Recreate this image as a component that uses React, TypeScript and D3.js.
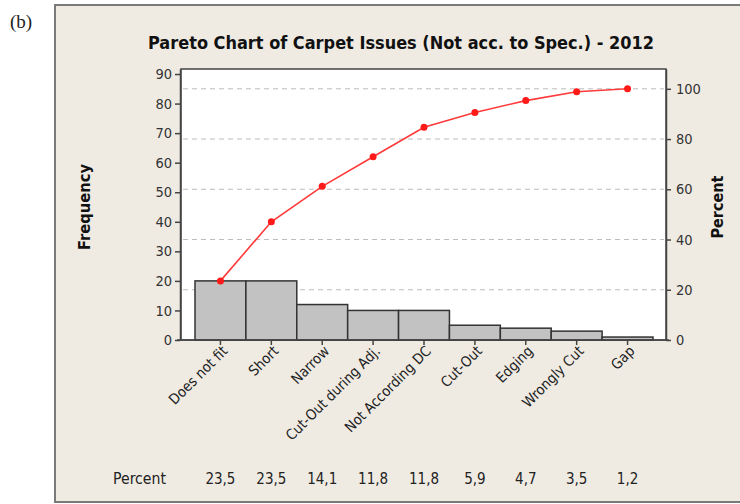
import React, { useEffect, useRef } from 'react';
import * as d3 from 'd3';

const categories = ['Does not fit', 'Short', 'Narrow', 'Cut-Out during Adj.', 'Not According DC', 'Cut-Out', 'Edging', 'Wrongly Cut', 'Gap'];
const counts = [20, 20, 12, 10, 10, 5, 4, 3, 1];
const percentLabels = ['23,5', '23,5', '14,1', '11,8', '11,8', '5,9', '4,7', '3,5', '1,2'];
const freqTicks = [0, 10, 20, 30, 40, 50, 60, 70, 80, 90];
const pctTicks = [0, 20, 40, 60, 80, 100];

const W = 740;
const H = 504;
const FONT = '"DejaVu Sans Condensed", "DejaVu Sans", sans-serif';

const App: React.FC = () => {
  const ref = useRef<SVGSVGElement>(null);

  useEffect(() => {
    if (!ref.current) return;
    const svg = d3.select(ref.current);
    svg.selectAll('*').remove();

    const total = d3.sum(counts);
    const cum = d3.cumsum(counts).map((c) => (c / total) * 100);

    const plot = { left: 181, right: 666, top: 69, bottom: 340 };

    // outer panel
    svg.append('rect').attr('width', W).attr('height', H).attr('fill', '#fff');
    svg
      .append('rect')
      .attr('x', 55)
      .attr('y', 5)
      .attr('width', 700)
      .attr('height', 497)
      .attr('fill', '#efebe3')
      .attr('stroke', '#7a7a7a')
      .attr('stroke-width', 2);

    svg
      .append('text')
      .attr('x', 10)
      .attr('y', 28)
      .style('font-family', '"Liberation Serif", serif')
      .style('font-size', '19px')
      .attr('fill', '#222')
      .text('(b)');

    svg
      .append('text')
      .attr('x', 401)
      .attr('y', 49)
      .attr('text-anchor', 'middle')
      .attr('textLength', 506)
      .attr('lengthAdjust', 'spacingAndGlyphs')
      .style('font-family', FONT)
      .style('font-size', '18px')
      .style('font-weight', 'bold')
      .attr('fill', '#111')
      .text('Pareto Chart of Carpet Issues (Not acc. to Spec.) - 2012');

    const x = d3.scaleBand<string>().domain(categories).range([195, 653]).padding(0);
    const yF = d3.scaleLinear().domain([0, 91.7]).range([plot.bottom, plot.top]);
    const yP = d3.scaleLinear().domain([0, (91.7 / total) * 100]).range([plot.bottom, plot.top]);

    svg
      .append('rect')
      .attr('x', plot.left)
      .attr('y', plot.top)
      .attr('width', plot.right - plot.left)
      .attr('height', plot.bottom - plot.top)
      .attr('fill', '#fff')
      .attr('stroke', '#444')
      .attr('stroke-width', 1.5);

    // gridlines
    svg
      .append('g')
      .selectAll('line')
      .data(pctTicks.filter((t) => t > 0))
      .enter()
      .append('line')
      .attr('x1', plot.left + 2)
      .attr('x2', plot.right - 2)
      .attr('y1', (d) => yP(d))
      .attr('y2', (d) => yP(d))
      .attr('stroke', '#bdbdbd')
      .attr('stroke-width', 1)
      .attr('stroke-dasharray', '5,4');

    // bars
    svg
      .append('g')
      .selectAll('rect')
      .data(counts)
      .enter()
      .append('rect')
      .attr('x', (_d, i) => x(categories[i]) as number)
      .attr('y', (d) => yF(d))
      .attr('width', x.bandwidth())
      .attr('height', (d) => yF(0) - yF(d))
      .attr('fill', '#c2c2c2')
      .attr('stroke', '#333')
      .attr('stroke-width', 1.5);

    const cx = (i: number) => (x(categories[i]) as number) + x.bandwidth() / 2;

    // cumulative line
    const line = d3
      .line<number>()
      .x((_d, i) => cx(i))
      .y((d) => yP(d));
    svg
      .append('path')
      .datum(cum)
      .attr('d', line)
      .attr('fill', 'none')
      .attr('stroke', '#ff3a3a')
      .attr('stroke-width', 1.6);
    svg
      .append('g')
      .selectAll('circle')
      .data(cum)
      .enter()
      .append('circle')
      .attr('cx', (_d, i) => cx(i))
      .attr('cy', (d) => yP(d))
      .attr('r', 3.5)
      .attr('fill', '#ff1a1a');

    // left axis
    const leftAxis = svg
      .append('g')
      .attr('transform', `translate(${plot.left - 1},0)`)
      .call(d3.axisLeft(yF).tickValues(freqTicks).tickSize(5).tickSizeOuter(0));
    leftAxis.select('.domain').attr('stroke', '#444').attr('stroke-width', 1.5);
    leftAxis.selectAll('.tick line').attr('stroke', '#444').attr('stroke-width', 1.5);
    leftAxis
      .selectAll('.tick text')
      .style('font-family', FONT)
      .style('font-size', '14.5px')
      .attr('fill', '#333')
      .attr('x', -8);

    // right axis
    const rightAxis = svg
      .append('g')
      .attr('transform', `translate(${plot.right},0)`)
      .call(d3.axisRight(yP).tickValues(pctTicks).tickSize(5).tickSizeOuter(0));
    rightAxis.select('.domain').attr('stroke', '#444').attr('stroke-width', 1.5);
    rightAxis.selectAll('.tick line').attr('stroke', '#444').attr('stroke-width', 1.5);
    rightAxis
      .selectAll('.tick text')
      .style('font-family', FONT)
      .style('font-size', '14.5px')
      .attr('fill', '#333')
      .attr('x', 10);

    // bottom axis
    const bottomAxis = svg
      .append('g')
      .attr('transform', `translate(0,${plot.bottom})`)
      .call(d3.axisBottom(x).tickSize(5).tickSizeOuter(0));
    bottomAxis.select('.domain').remove();
    bottomAxis.selectAll('.tick line').attr('stroke', '#444').attr('stroke-width', 1.5);
    bottomAxis
      .selectAll('.tick text')
      .style('font-family', FONT)
      .style('font-size', '14.5px')
      .attr('fill', '#222')
      .attr('text-anchor', 'end')
      .attr('dy', 0)
      .attr('y', 0)
      .attr('transform', 'translate(8,12) rotate(-45)');
    svg
      .append('line')
      .attr('x1', plot.left - 4)
      .attr('x2', plot.right + 3)
      .attr('y1', plot.bottom)
      .attr('y2', plot.bottom)
      .attr('stroke', '#444')
      .attr('stroke-width', 1.5);

    // axis titles
    svg
      .append('text')
      .attr('transform', 'translate(90,207) rotate(-90)')
      .attr('text-anchor', 'middle')
      .attr('textLength', 86)
      .attr('lengthAdjust', 'spacingAndGlyphs')
      .style('font-family', FONT)
      .style('font-size', '15px')
      .style('font-weight', 'bold')
      .attr('fill', '#111')
      .text('Frequency');
    svg
      .append('text')
      .attr('transform', 'translate(723,207) rotate(-90)')
      .attr('text-anchor', 'middle')
      .attr('textLength', 63)
      .attr('lengthAdjust', 'spacingAndGlyphs')
      .style('font-family', FONT)
      .style('font-size', '15px')
      .style('font-weight', 'bold')
      .attr('fill', '#111')
      .text('Percent');

    // percent row
    svg
      .append('text')
      .attr('x', 113)
      .attr('y', 484)
      .attr('textLength', 53)
      .attr('lengthAdjust', 'spacingAndGlyphs')
      .style('font-family', FONT)
      .style('font-size', '15px')
      .attr('fill', '#222')
      .text('Percent');
    svg
      .append('g')
      .selectAll('text')
      .data(percentLabels)
      .enter()
      .append('text')
      .attr('x', (_d, i) => cx(i))
      .attr('y', 484)
      .attr('text-anchor', 'middle')
      .style('font-family', FONT)
      .style('font-size', '15px')
      .attr('fill', '#222')
      .text((d) => d);
  }, []);

  return (
    <div style={{ position: 'fixed', left: 0, top: 0, width: W, height: H }}>
      <svg ref={ref} width={W} height={H} style={{ display: 'block' }} />
    </div>
  );
};

export default App;
